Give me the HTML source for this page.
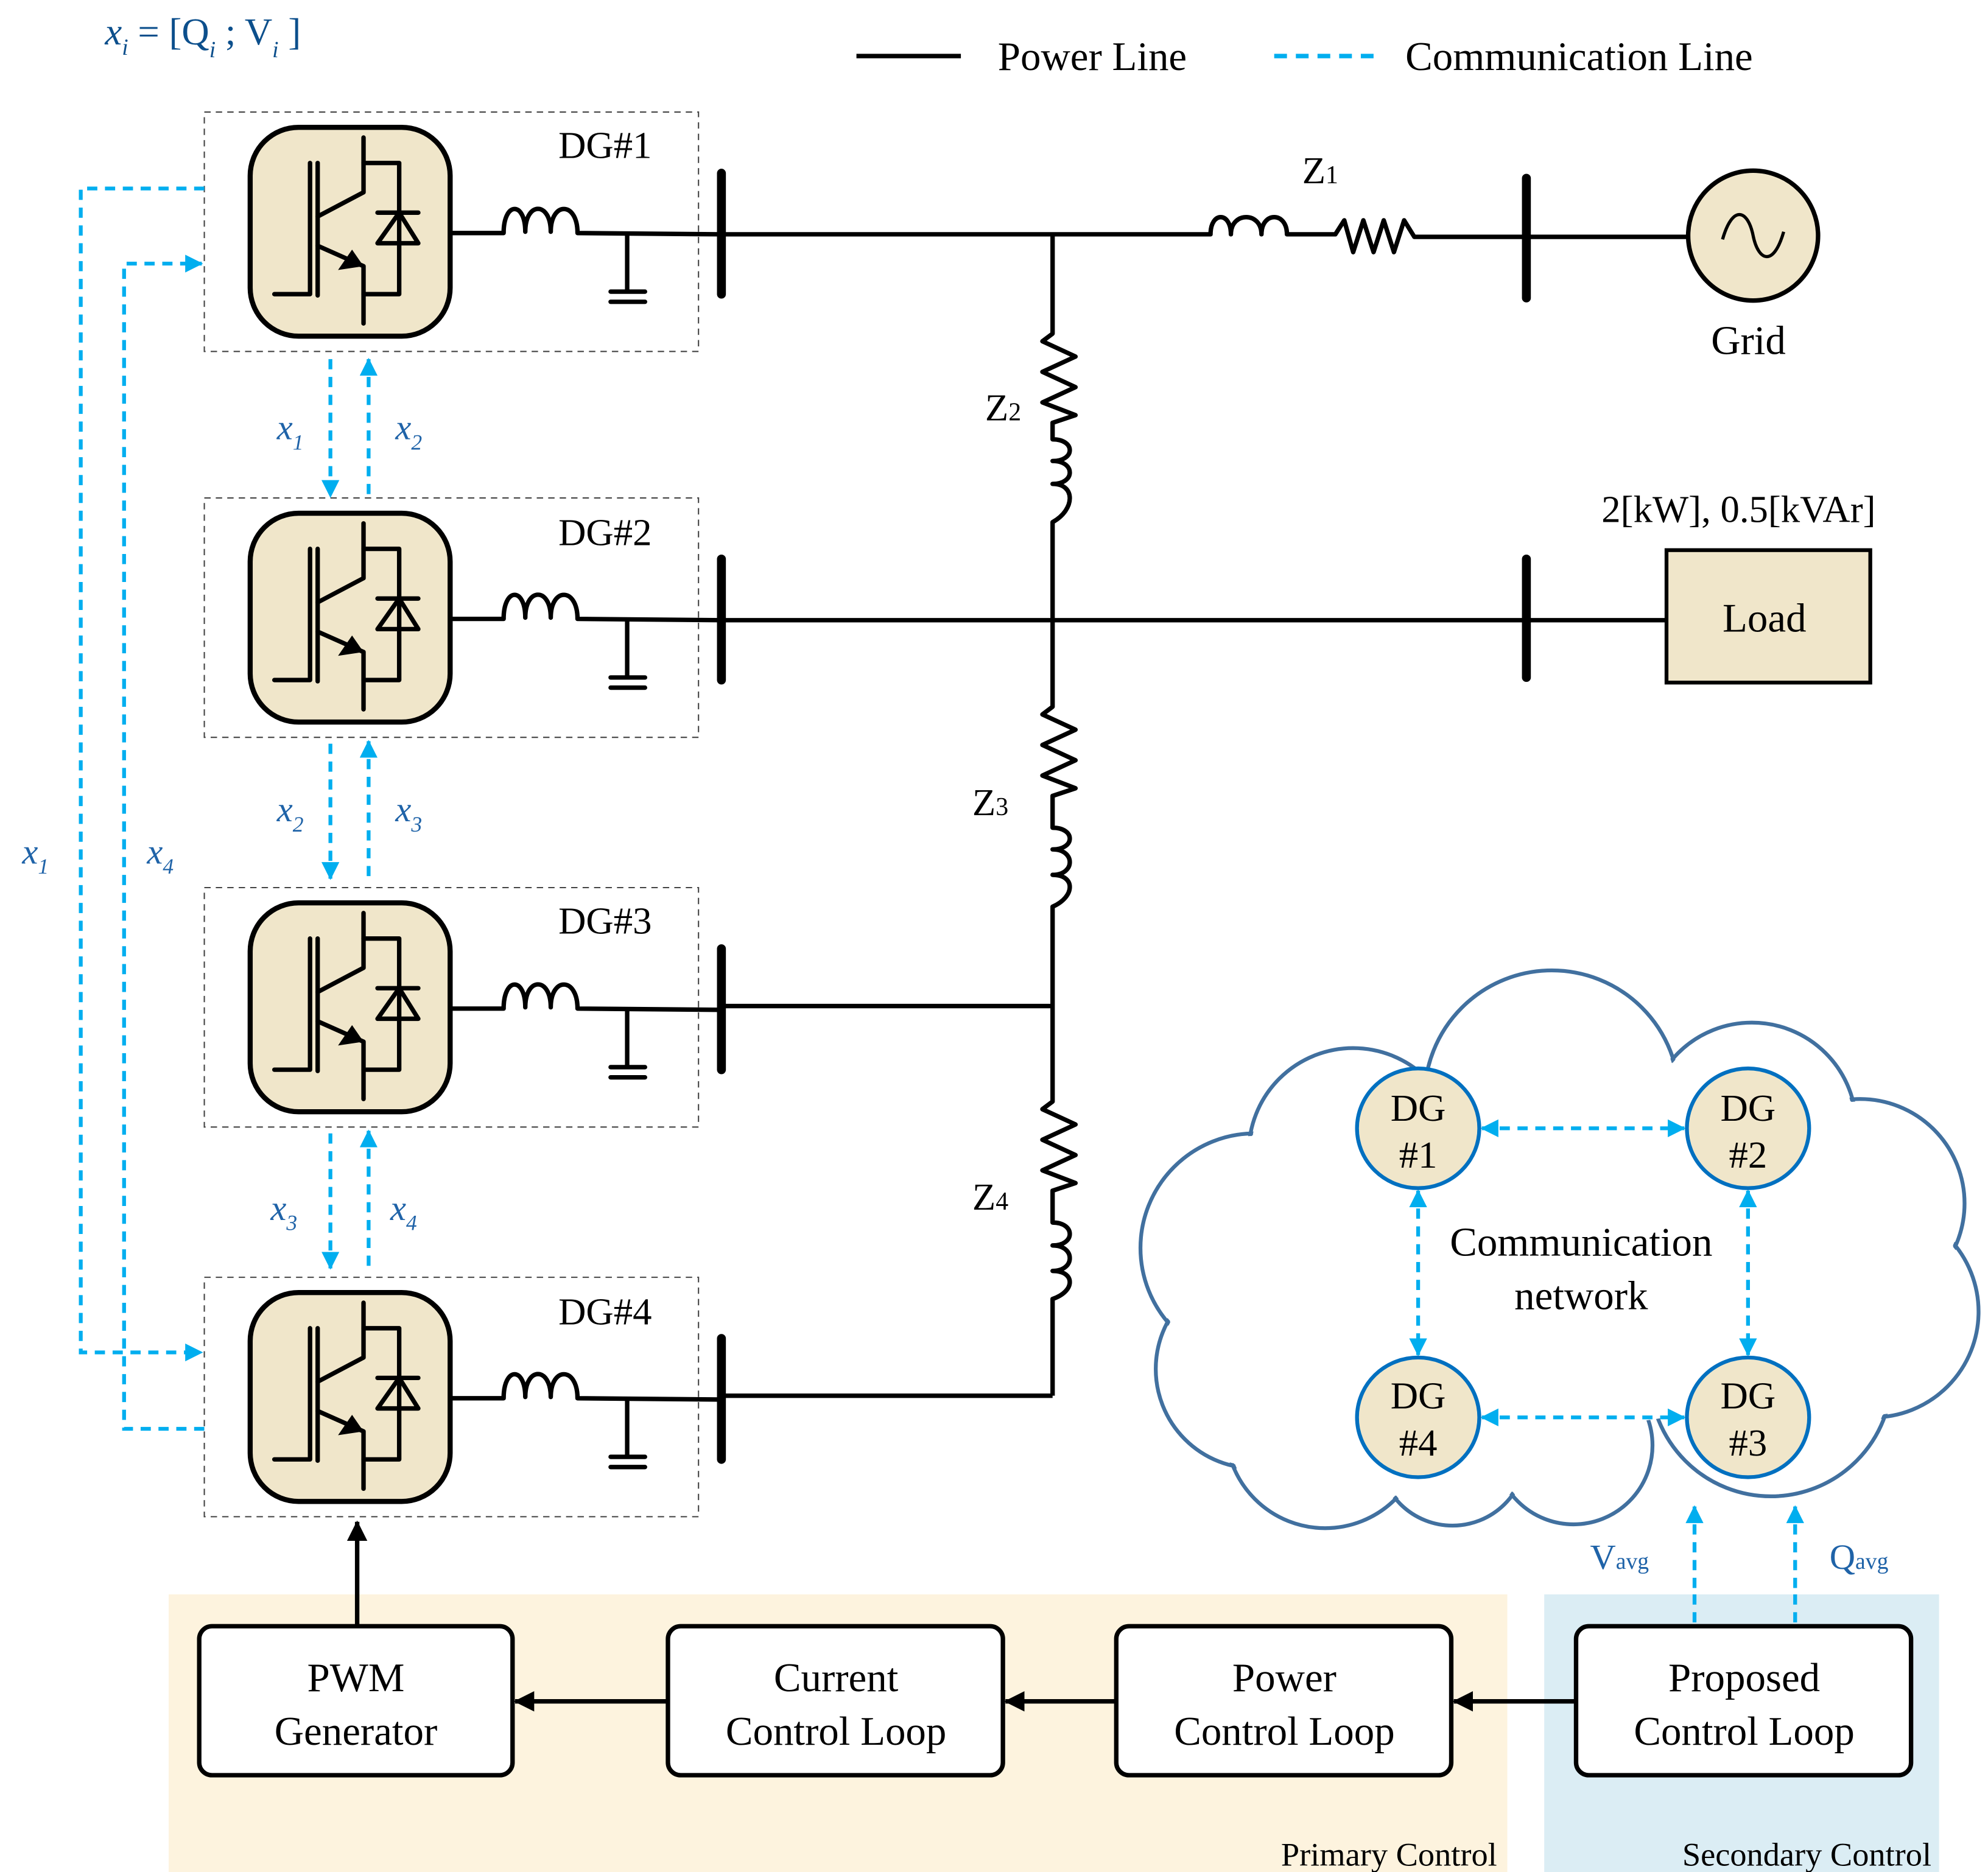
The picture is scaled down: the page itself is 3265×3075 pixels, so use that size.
<!DOCTYPE html>
<html><head><meta charset="utf-8"><style>
html,body{margin:0;padding:0;background:#fff}
svg{display:block}
text{font-family:"Liberation Serif",serif}
</style></head><body>
<svg width="3265" height="3075" viewBox="0 0 1560 1470" xmlns="http://www.w3.org/2000/svg">
<defs>
<marker id="ac" markerWidth="14" markerHeight="14" refX="13" refY="7" orient="auto-start-reverse" markerUnits="userSpaceOnUse" viewBox="0 0 14 14"><path d="M0,0 L14,7 L0,14 Z" fill="#00aeef"/></marker>
<marker id="ak" markerWidth="16" markerHeight="16" refX="15" refY="8" orient="auto" markerUnits="userSpaceOnUse" viewBox="0 0 16 16"><path d="M0,0 L16,8 L0,16 Z" fill="#000"/></marker>
<g id="dg">
<rect x="160" y="88" width="388" height="188" fill="none" stroke="#444" stroke-width="1" stroke-dasharray="5,4"/>
<rect x="196" y="100" width="157" height="164" rx="38" fill="#f0e6ca" stroke="#000" stroke-width="4"/>
<g fill="none" stroke="#000" stroke-width="3.5" stroke-linecap="round" stroke-linejoin="round">
<path d="M215,231 H243 V128"/>
<path d="M249,128 V232"/>
<path d="M285,108 V151 L249,170"/>
<path d="M249,193 L285,209 V254"/>
<path d="M285,128 H313 V231 H285"/>
<path d="M296,167 H328"/>
<path d="M313,167 L296,191 H328 Z"/>
<path d="M353,183 H395 C395,158 412,158 412,182 C412,158 432,158 432,182 C432,158 453,158 453,183 L566,184"/>
<path d="M492,184 V229 M479,229 H506 M479,237 H506"/>
</g>
<path d="M285,209 L265,212 L276,196 Z" fill="#000"/>
<line x1="566" y1="136" x2="566" y2="231" stroke="#000" stroke-width="7" stroke-linecap="round"/>
</g>
</defs>

<line x1="672" y1="44" x2="754" y2="44" stroke="#000" stroke-width="3.5"/>
<text x="783" y="55" font-size="32">Power Line</text>
<line x1="1000" y1="44" x2="1080" y2="44" stroke="#00aeef" stroke-width="3.5" stroke-dasharray="10,7"/>
<text x="1103" y="55" font-size="32">Communication Line</text>
<text x="82" y="35" font-size="30" fill="#0c4f8c"><tspan font-style="italic">x</tspan><tspan font-size="18" font-style="italic" dy="8">i</tspan><tspan dy="-8"> = [Q</tspan><tspan font-size="18" font-style="italic" dy="10">i</tspan><tspan dy="-10"> ; V</tspan><tspan font-size="18" font-style="italic" dy="10">i</tspan><tspan dy="-10"> ]</tspan></text>

<use href="#dg"/>
<use href="#dg" transform="translate(0,303)"/>
<use href="#dg" transform="translate(0,609)"/>
<use href="#dg" transform="translate(0,915)"/>
<g font-size="30"><text x="438" y="124">DG#1</text><text x="438" y="428">DG#2</text><text x="438" y="733">DG#3</text><text x="438" y="1040">DG#4</text></g>

<g fill="none" stroke="#000" stroke-width="3.5" stroke-linejoin="round">
<path d="M566,184 H950 C950,166 966,166 966,184 C966,166 990,166 990,184 C990,166 1010,166 1010,184 H1048 L1055,173 L1062,198 L1070,173 L1078,198 L1086,173 L1094,198 L1102,173 L1110,186 H1198 H1325"/>
<path d="M566,487 H1308"/>
<path d="M566,790 H826"/>
<path d="M566,1096 H826"/>
<path d="M826,184 V262 L818,268 L844,280 L818,292 L844,304 L818,316 L844,326 L826,332 V345 C844,345 844,362 826,362 C844,362 844,380 826,380 C844,380 844,400 826,410 V555 L818,561 L844,573 L818,585 L844,597 L818,609 L844,619 L826,625 V650 C844,650 844,667 826,667 C844,667 844,687 826,687 C844,687 844,704 826,712 V865 L818,871 L844,883 L818,895 L844,907 L818,919 L844,929 L826,935 V960 C844,960 844,978 826,978 C844,978 844,998 826,998 C844,998 844,1014 826,1020 V1096"/>
</g>
<line x1="1198" y1="140" x2="1198" y2="234" stroke="#000" stroke-width="7" stroke-linecap="round"/>
<line x1="1198" y1="439" x2="1198" y2="532" stroke="#000" stroke-width="7" stroke-linecap="round"/>
<circle cx="1376" cy="185" r="51" fill="#f0e6ca" stroke="#000" stroke-width="3.5"/>
<path d="M1352,188 C1360,160 1372,165 1376,185 C1380,205 1392,210 1400,182" fill="none" stroke="#000" stroke-width="2.5"/>
<text x="1343" y="278" font-size="32">Grid</text>
<rect x="1308" y="432" width="160" height="104" fill="#f0e6ca" stroke="#000" stroke-width="3"/>
<text x="1352" y="496" font-size="32">Load</text>
<text x="1257" y="410" font-size="30">2[kW], 0.5[kVAr]</text>
<text x="1022" y="144" font-size="30">Z<tspan font-size="20">1</tspan></text>
<text x="773" y="330" font-size="30">Z<tspan font-size="20">2</tspan></text>
<text x="763" y="640" font-size="30">Z<tspan font-size="20">3</tspan></text>
<text x="763" y="950" font-size="30">Z<tspan font-size="20">4</tspan></text>

<g fill="none" stroke="#00aeef" stroke-width="3" stroke-dasharray="8,6">
<path d="M160,148 H63 V1062 H158" marker-end="url(#ac)"/>
<path d="M160,1122 H97 V207 H158" marker-end="url(#ac)"/>
<path d="M259,282 V390" marker-end="url(#ac)"/><path d="M289,388 V282" marker-end="url(#ac)"/>
<path d="M259,584 V690" marker-end="url(#ac)"/><path d="M289,688 V582" marker-end="url(#ac)"/>
<path d="M259,890 V996" marker-end="url(#ac)"/><path d="M289,994 V888" marker-end="url(#ac)"/>
</g>
<g font-size="28" fill="#1f63a8" font-style="italic">
<text x="217" y="345">x<tspan font-size="17" dy="8">1</tspan></text>
<text x="310" y="345">x<tspan font-size="17" dy="8">2</tspan></text>
<text x="217" y="645">x<tspan font-size="17" dy="8">2</tspan></text>
<text x="310" y="645">x<tspan font-size="17" dy="8">3</tspan></text>
<text x="212" y="958">x<tspan font-size="17" dy="8">3</tspan></text>
<text x="306" y="958">x<tspan font-size="17" dy="8">4</tspan></text>
<text x="17" y="678">x<tspan font-size="17" dy="8">1</tspan></text>
<text x="115" y="678">x<tspan font-size="17" dy="8">4</tspan></text>
</g>

<g fill="none" stroke="#41709f" stroke-width="3">
<circle cx="1218" cy="862" r="100"/><circle cx="1062" cy="905" r="82"/><circle cx="985" cy="980" r="90"/>
<circle cx="985" cy="1075" r="78"/><circle cx="1040" cy="1122" r="78"/><circle cx="1140" cy="1140" r="58"/>
<circle cx="1235" cy="1135" r="62"/><circle cx="1390" cy="1080" r="95"/><circle cx="1470" cy="1030" r="83"/>
<circle cx="1460" cy="945" r="82"/><circle cx="1375" cy="885" r="82"/>
</g>
<g fill="#fff">
<circle cx="1218" cy="862" r="98"/><circle cx="1062" cy="905" r="80"/><circle cx="985" cy="980" r="88"/>
<circle cx="985" cy="1075" r="76"/><circle cx="1040" cy="1122" r="76"/><circle cx="1140" cy="1140" r="56"/>
<circle cx="1235" cy="1135" r="60"/><circle cx="1390" cy="1080" r="93"/><circle cx="1470" cy="1030" r="81"/>
<circle cx="1460" cy="945" r="80"/><circle cx="1375" cy="885" r="80"/>
<ellipse cx="1225" cy="995" rx="250" ry="125"/>
</g>
<g fill="none" stroke="#00aeef" stroke-width="3" stroke-dasharray="8,6">
<path d="M1163,886 H1322" marker-start="url(#ac)" marker-end="url(#ac)"/>
<path d="M1163,1113 H1322" marker-start="url(#ac)" marker-end="url(#ac)"/>
<path d="M1113,935 V1064" marker-start="url(#ac)" marker-end="url(#ac)"/>
<path d="M1372,935 V1064" marker-start="url(#ac)" marker-end="url(#ac)"/>
<path d="M1330,1183 V1274" marker-start="url(#ac)" marker-end="url(#ac)"/>
<path d="M1409,1183 V1274" marker-start="url(#ac)" marker-end="url(#ac)"/>
</g>
<g fill="#f0e6ca" stroke="#0070c0" stroke-width="3">
<ellipse cx="1113" cy="886" rx="48" ry="47"/><ellipse cx="1372" cy="886" rx="48" ry="47"/>
<ellipse cx="1113" cy="1113" rx="48" ry="47"/><ellipse cx="1372" cy="1113" rx="48" ry="47"/>
</g>
<g font-size="30" text-anchor="middle">
<text x="1113" y="880">DG</text><text x="1113" y="917">#1</text>
<text x="1372" y="880">DG</text><text x="1372" y="917">#2</text>
<text x="1113" y="1106">DG</text><text x="1113" y="1143">#4</text>
<text x="1372" y="1106">DG</text><text x="1372" y="1143">#3</text>
<text x="1241" y="986" font-size="32">Communication</text>
<text x="1241" y="1028" font-size="32">network</text>
</g>
<text x="1248" y="1232" font-size="28" fill="#1f63a8">V<tspan font-size="18">avg</tspan></text>
<text x="1436" y="1232" font-size="28" fill="#1f63a8">Q<tspan font-size="18">avg</tspan></text>

<rect x="132" y="1252" width="1051" height="218" fill="#fdf3de"/>
<rect x="1212" y="1252" width="310" height="218" fill="#dbedf4"/>
<path d="M1330,1252 V1274 M1409,1252 V1274" stroke="#00aeef" stroke-width="3" stroke-dasharray="8,6"/>
<text x="1175" y="1465" font-size="26" text-anchor="end">Primary Control</text>
<text x="1516" y="1465" font-size="26" text-anchor="end">Secondary Control</text>
<g fill="#fff" stroke="#000" stroke-width="3.5">
<rect x="156" y="1277" width="246" height="117" rx="10"/>
<rect x="524" y="1277" width="263" height="117" rx="10"/>
<rect x="876" y="1277" width="263" height="117" rx="10"/>
<rect x="1237" y="1277" width="263" height="117" rx="10"/>
</g>
<g stroke="#000" stroke-width="3.5" fill="none">
<path d="M524,1336 H404" marker-end="url(#ak)"/>
<path d="M876,1336 H789" marker-end="url(#ak)"/>
<path d="M1237,1336 H1141" marker-end="url(#ak)"/>
<path d="M280,1277 V1195" marker-end="url(#ak)"/>
</g>
<g font-size="32" text-anchor="middle">
<text x="279" y="1328">PWM</text><text x="279" y="1370">Generator</text>
<text x="656" y="1328">Current</text><text x="656" y="1370">Control Loop</text>
<text x="1008" y="1328">Power</text><text x="1008" y="1370">Control Loop</text>
<text x="1369" y="1328">Proposed</text><text x="1369" y="1370">Control Loop</text>
</g>
</svg>
</body></html>
